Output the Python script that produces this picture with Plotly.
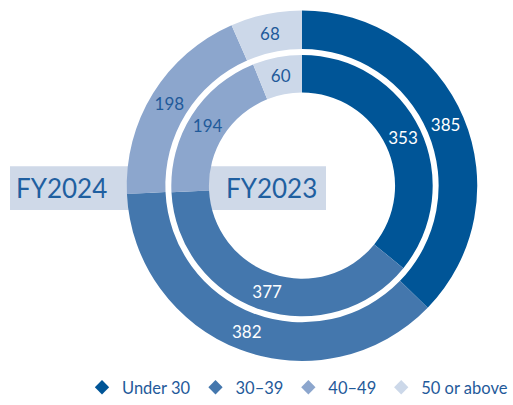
import plotly.graph_objects as go

categories = ["Under 30", "30–39", "40–49", "50 or above"]
fy2024 = [385, 382, 198, 68]
fy2023 = [353, 377, 194, 60]
colors = ["#005597", "#4477ad", "#8ca6cd", "#ccd8e9"]
text_colors = ["#ffffff", "#ffffff", "#1f5a9a", "#1f5a9a"]

W, H = 513, 405
cx, cy = 302, 187.5  # pixel centre (from top)
r_out, r_mid_out = 177, 138
r_in, r_hole = 132, 94

def dom(r):
    return dict(x=[(cx - r) / W, (cx + r) / W],
                y=[(H - cy - r) / H, (H - cy + r) / H])

fig = go.Figure()
for vals, ro, ri in [(fy2024, r_out, r_mid_out), (fy2023, r_in, r_hole)]:
    fig.add_trace(go.Pie(
        labels=categories, values=vals, sort=False, direction="clockwise", rotation=0,
        hole=ri / ro, domain=dom(ro), showlegend=False,
        marker=dict(colors=colors, line=dict(width=0)),
        textinfo="value", textposition="inside", insidetextorientation="horizontal",
        textfont=dict(family="Lato", size=17, color=text_colors), hoverinfo="label+value",
    ))
for c, col in zip(categories, colors):
    fig.add_trace(go.Scatter(x=[None], y=[None], mode="markers", name=c,
                             marker=dict(symbol="diamond", size=11, color=col)))

# label boxes behind the rings
fig.add_shape(type="rect", xref="paper", yref="paper", layer="below",
              x0=10 / W, x1=150 / W, y0=(H - 212) / H, y1=(H - 168) / H,
              fillcolor="#cfd9e8", line=dict(width=0))
fig.add_shape(type="rect", xref="paper", yref="paper", layer="below",
              x0=200 / W, x1=326 / W, y0=(H - 212) / H, y1=(H - 168) / H,
              fillcolor="#cfd9e8", line=dict(width=0))
fig.add_annotation(text="FY2024", xref="paper", yref="paper", x=61 / W, y=(H - 190) / H,
                   xanchor="center", yanchor="middle",
                   showarrow=False, font=dict(family="Lato", size=26, color="#1f5fa0"))
fig.add_annotation(text="FY2023", xref="paper", yref="paper", x=271 / W, y=(H - 190) / H,
                   xanchor="center", yanchor="middle",
                   showarrow=False, font=dict(family="Lato", size=26, color="#1f5fa0"))

fig.update_layout(
    width=W, height=H, margin=dict(l=0, r=0, t=0, b=0),
    paper_bgcolor="white", plot_bgcolor="white",
    xaxis=dict(visible=False), yaxis=dict(visible=False),
    legend=dict(orientation="h", x=1, xanchor="right", y=-0.01, yanchor="bottom",
                font=dict(family="Lato", size=16.5, color="#1f5a9a"),
                bgcolor="rgba(0,0,0,0)", itemwidth=30),
)
fig.write_html("out.html", config={"displayModeBar": False},
               post_script="document.body.style.margin='0';document.body.style.overflow='hidden';")
